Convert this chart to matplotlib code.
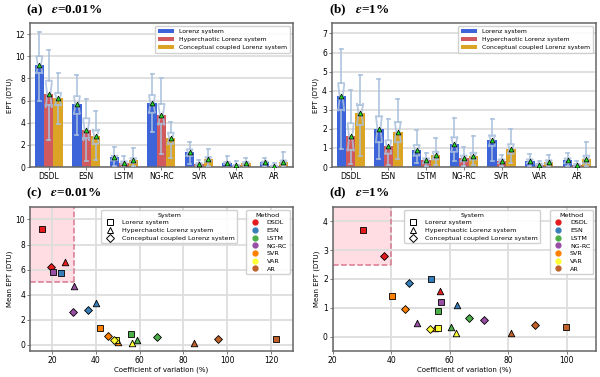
import matplotlib.pyplot as plt
import numpy as np

methods = ["DSDL", "ESN", "LSTM", "NG-RC", "SVR", "VAR", "AR"]
systems = ["Lorenz system", "Hyperchaotic Lorenz system", "Conceptual coupled Lorenz system"]
sys_markers = ["s", "^", "D"]
bar_colors = ["#3d64d8", "#d05a5e", "#dca424"]
method_colors = ["#e41a1c", "#377eb8", "#4daf4a", "#984ea3", "#ff7f00", "#ffff33", "#c0602a"]

# eps = 0.01 %   (rows: methods, cols: systems)
mean_a = [[9.25, 6.6, 6.2], [5.7, 3.35, 2.8], [0.88, 0.4, 0.62], [5.77, 4.72, 2.6],
          [1.32, 0.25, 0.72], [0.4, 0.16, 0.37], [0.43, 0.1, 0.45]]
med_a = [[9.2, 6.5, 6.1], [5.6, 3.3, 2.8], [0.85, 0.38, 0.6], [5.7, 4.7, 2.6],
         [1.3, 0.25, 0.7], [0.38, 0.15, 0.35], [0.4, 0.1, 0.42]]
q1_a = [[8.5, 5.6, 5.6], [4.8, 2.6, 2.1], [0.6, 0.25, 0.4], [4.9, 3.9, 2.1],
        [1.0, 0.15, 0.5], [0.3, 0.1, 0.25], [0.3, 0.05, 0.3]]
q3_a = [[10.0, 7.8, 6.7], [6.4, 4.4, 3.3], [1.0, 0.5, 0.8], [6.5, 5.7, 3.1],
        [1.6, 0.35, 0.9], [0.45, 0.2, 0.45], [0.5, 0.12, 0.6]]
lo_a = [[6.0, 2.4, 3.9], [2.9, 0.5, 0.6], [0.1, 0.0, 0.1], [3.2, 1.2, 0.8],
        [0.3, 0.0, 0.1], [0.05, 0.0, 0.05], [0.05, 0.0, 0.05]]
hi_a = [[12.2, 10.6, 8.5], [8.3, 6.1, 5.1], [1.8, 1.0, 1.7], [8.4, 8.0, 4.1],
        [2.3, 0.6, 1.6], [0.95, 0.5, 0.85], [0.8, 0.35, 1.4]]
cv_a = [[15.7, 26.2, 19.4], [24.2, 40.1, 36.5], [56.0, 58.9, 67.9], [20.6, 30.0, 29.5],
        [41.8, 50.4, 45.7], [49.2, 56.5, 48.5], [122.4, 85.1, 95.7]]

# eps = 1 %
mean_b = [[3.7, 1.6, 2.81], [2.0, 1.08, 1.86], [0.9, 0.35, 0.63], [1.2, 0.48, 0.59],
          [1.4, 0.3, 0.96], [0.3, 0.13, 0.28], [0.35, 0.12, 0.4]]
med_b = [[3.65, 1.55, 2.8], [2.0, 1.05, 1.85], [0.88, 0.33, 0.6], [1.2, 0.45, 0.55],
         [1.4, 0.3, 0.95], [0.3, 0.12, 0.27], [0.33, 0.11, 0.38]]
q1_b = [[3.0, 0.9, 2.2], [1.3, 0.7, 1.3], [0.6, 0.2, 0.4], [0.8, 0.3, 0.4],
        [1.1, 0.2, 0.7], [0.2, 0.08, 0.18], [0.2, 0.07, 0.2]]
q3_b = [[4.4, 2.3, 3.25], [2.65, 1.4, 2.35], [1.15, 0.45, 0.8], [1.55, 0.6, 0.75],
        [1.65, 0.4, 1.2], [0.4, 0.18, 0.35], [0.45, 0.15, 0.6]]
lo_b = [[0.96, 0.15, 0.6], [0.4, 0.1, 0.4], [0.2, 0.05, 0.1], [0.3, 0.05, 0.1],
        [0.3, 0.05, 0.2], [0.05, 0.02, 0.05], [0.05, 0.02, 0.05]]
hi_b = [[6.17, 4.05, 4.8], [4.6, 2.5, 3.55], [1.93, 0.75, 1.53], [2.58, 1.03, 1.62],
        [2.5, 0.62, 2.0], [0.68, 0.32, 0.65], [0.75, 0.32, 1.33]]
cv_b = [[30.3, 56.7, 37.7], [53.5, 62.5, 46.2], [55.9, 60.6, 66.6], [57.0, 48.9, 71.6],
        [40.2, 54.9, 44.6], [56.1, 62.1, 53.2], [99.8, 81.1, 89.0]]

plt.rcParams['font.family'] = 'DejaVu Sans'
plt.rcParams['mathtext.fontset'] = 'stix'

fig = plt.figure(figsize=(6, 3.77), dpi=100)


def style_axes(ax):
    for s in ax.spines.values():
        s.set_color('#666666')
        s.set_linewidth(1.1)
    ax.tick_params(labelsize=5.5, length=2, width=0.6, color='#666666', pad=1.5)
    ax.set_axisbelow(True)


def bar_panel(ax, mean, med, q1, q3, lo, hi, ylim, yticks):
    x = np.arange(len(methods))
    w = 0.25
    box_col = '#a9c0dc'
    for j, name in enumerate(systems):
        pos = x + (j - 1) * w
        m = np.array(mean)[:, j]
        ax.bar(pos, m, w, color=bar_colors[j], label=name, zorder=2)
        stats = []
        for i in range(len(methods)):
            iqr = q3[i][j] - q1[i][j]
            stats.append(dict(med=med[i][j], q1=q1[i][j], q3=q3[i][j],
                              whislo=lo[i][j], whishi=hi[i][j],
                              cilo=med[i][j] - 0.5 * iqr, cihi=med[i][j] + 0.5 * iqr,
                              mean=mean[i][j], fliers=[]))
        ax.bxp(stats, positions=pos, widths=0.16, shownotches=True, showmeans=True,
               showfliers=False, manage_ticks=False,
               boxprops=dict(color=box_col, lw=1.3, alpha=0.85),
               whiskerprops=dict(color=box_col, lw=1.3, alpha=0.85),
               capprops=dict(color=box_col, lw=1.3, alpha=0.85),
               medianprops=dict(color='none'),
               meanprops=dict(marker='^', markerfacecolor='#22dd22', markeredgecolor='black',
                              markeredgewidth=0.5, markersize=3.5),
               zorder=3)
    ax.set_xticks(x)
    ax.set_xticklabels(methods)
    ax.set_xlim(-0.5, 6.5)
    ax.set_ylim(*ylim)
    ax.set_yticks(yticks)
    ax.yaxis.grid(True, color='#dddddd', lw=1.3)
    ax.set_ylabel('EPT (DTU)', fontsize=5, labelpad=2)
    ax.legend(loc='upper right', fontsize=4.4, frameon=True, handlelength=2.6,
              borderpad=0.5, labelspacing=0.4, framealpha=0.9)
    style_axes(ax)


def scatter_panel(ax, cv, mean, xlim, ylim, xticks, yticks, box):
    ax.add_patch(plt.Rectangle((xlim[0], box[1]), box[0] - xlim[0], ylim[1] - box[1],
                               facecolor='#ffdde3', edgecolor='none', zorder=0))
    ax.plot([box[0], box[0]], [box[1], ylim[1]], ls='--', color='#d87890', lw=1.1, zorder=1)
    ax.plot([xlim[0], box[0]], [box[1], box[1]], ls='--', color='#d87890', lw=1.1, zorder=1)
    for i in range(len(methods)):
        for j in range(len(systems)):
            ax.scatter(cv[i][j], mean[i][j], marker=sys_markers[j], s=22 if j != 2 else 16,
                       color=method_colors[i], edgecolor='black', linewidth=0.6, zorder=3)
    ax.set_xlim(*xlim)
    ax.set_ylim(*ylim)
    ax.set_xticks(xticks)
    ax.set_yticks(yticks)
    ax.grid(True, color='#dddddd', lw=1.3)
    ax.set_xlabel('Coefficient of variation (%)', fontsize=5, labelpad=1.5)
    ax.set_ylabel('Mean EPT (DTU)', fontsize=5, labelpad=2)
    sys_handles = [plt.Line2D([], [], ls='none', marker=mk, markerfacecolor='white',
                              markeredgecolor='black', markersize=4, markeredgewidth=0.7)
                   for mk in sys_markers]
    leg1 = ax.legend(sys_handles, systems, title='System', loc='upper center',
                     bbox_to_anchor=(0.53, 1.0), fontsize=4.6, title_fontsize=4.6,
                     handletextpad=0.8, labelspacing=0.35, borderpad=0.4, framealpha=0.9)
    ax.add_artist(leg1)
    m_handles = [plt.Line2D([], [], ls='none', marker='o', markerfacecolor=c,
                            markeredgecolor=c, markersize=3.5) for c in method_colors]
    ax.legend(m_handles, methods, title='Method', loc='upper right', fontsize=4.6,
              title_fontsize=4.6, handletextpad=0.8, labelspacing=0.35, borderpad=0.4,
              framealpha=0.9)
    style_axes(ax)


ax_a = fig.add_axes([0.05, 0.557, 0.438, 0.382])
ax_b = fig.add_axes([0.553, 0.557, 0.440, 0.382])
ax_c = fig.add_axes([0.05, 0.069, 0.438, 0.382])
ax_d = fig.add_axes([0.5545, 0.069, 0.4388, 0.382])

bar_panel(ax_a, mean_a, med_a, q1_a, q3_a, lo_a, hi_a, (0, 13), range(0, 13, 2))
bar_panel(ax_b, mean_b, med_b, q1_b, q3_b, lo_b, hi_b, (0, 7.55), range(0, 8))
scatter_panel(ax_c, cv_a, mean_a, (10, 130), (-0.5, 11), range(20, 121, 20), range(0, 11, 2), (30, 5))
scatter_panel(ax_d, cv_b, mean_b, (20, 110), (-0.5, 4.5), range(20, 101, 20), range(0, 5), (40, 2.5))

title_kw = dict(fontsize=9.5, fontweight='bold', family='Liberation Serif', va='center')
fig.text(0.044, 0.972, r'(a)   $\mathbfit{\varepsilon}$=0.01%', **title_kw)
fig.text(0.549, 0.972, r'(b)   $\mathbfit{\varepsilon}$=1%', **title_kw)
fig.text(0.044, 0.487, r'(c)   $\mathbfit{\varepsilon}$=0.01%', **title_kw)
fig.text(0.549, 0.487, r'(d)   $\mathbfit{\varepsilon}$=1%', **title_kw)

fig.savefig('out.png', dpi=100)
